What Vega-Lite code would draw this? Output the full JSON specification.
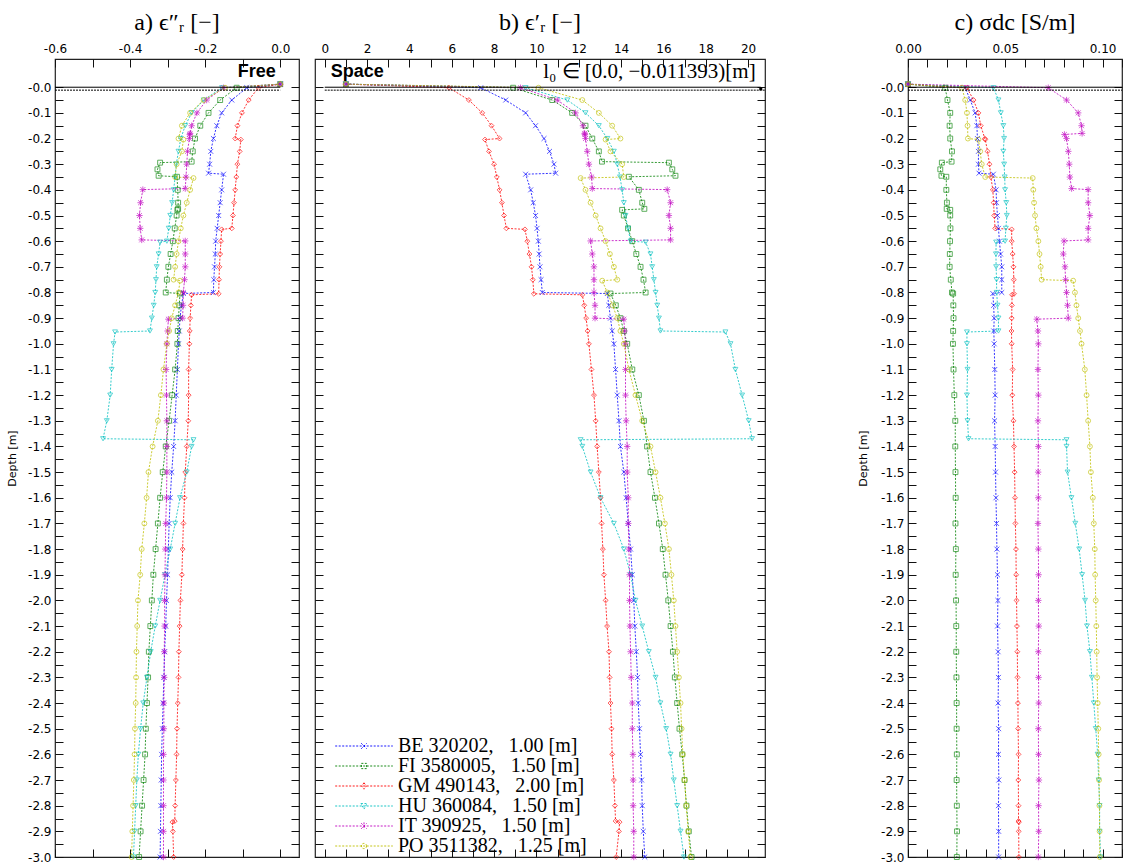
{
"$schema": "https://vega.github.io/schema/vega-lite/v6.json",
"padding": {"left": 5, "top": 10, "right": 0, "bottom": 0},
"config": {
  "font": "DejaVu Sans",
  "view": {"stroke": "#222", "strokeWidth": 1.2},
  "axis": {"grid": false, "domain": false, "tickColor": "#111", "tickWidth": 1, "tickSize": -8, "labelPadding": 12, "labelFont": "DejaVu Sans", "labelFontSize": 12, "labelColor": "#000", "labelFlush": false, "labelOverlap": false, "titleFont": "DejaVu Sans", "titleFontSize": 11, "titleFontWeight": "normal", "titleColor": "#000"},
  "title": {"font": "Liberation Serif", "fontSize": 24, "fontWeight": "normal", "color": "#000", "offset": 7}
},
"datasets": {"prof": [
{"s":"BE","d":0.012,"a":0,"b":1,"c":0},
{"s":"BE","d":-0.002,"a":-0.089,"b":7.37,"c":0.0294},
{"s":"BE","d":-0.05,"a":-0.129,"b":8.55,"c":0.032},
{"s":"BE","d":-0.1,"a":-0.156,"b":9.49,"c":0.0345},
{"s":"BE","d":-0.15,"a":-0.169,"b":9.96,"c":0.0354},
{"s":"BE","d":-0.2,"a":-0.178,"b":10.36,"c":0.0357},
{"s":"BE","d":-0.25,"a":-0.185,"b":10.62,"c":0.0362},
{"s":"BE","d":-0.3,"a":-0.188,"b":10.83,"c":0.0362},
{"s":"BE","d":-0.335,"a":-0.191,"b":10.91,"c":0.0365},
{"s":"BE","d":-0.339,"a":-0.151,"b":9.49,"c":0.0439},
{"s":"BE","d":-0.4,"a":-0.156,"b":9.73,"c":0.0453},
{"s":"BE","d":-0.45,"a":-0.16,"b":9.85,"c":0.0455},
{"s":"BE","d":-0.5,"a":-0.164,"b":9.96,"c":0.046},
{"s":"BE","d":-0.55,"a":-0.168,"b":10.03,"c":0.0465},
{"s":"BE","d":-0.6,"a":-0.172,"b":10.09,"c":0.047},
{"s":"BE","d":-0.65,"a":-0.173,"b":10.13,"c":0.0476},
{"s":"BE","d":-0.7,"a":-0.175,"b":10.17,"c":0.0482},
{"s":"BE","d":-0.75,"a":-0.177,"b":10.22,"c":0.0482},
{"s":"BE","d":-0.8,"a":-0.178,"b":10.28,"c":0.0482},
{"s":"BE","d":-0.804,"a":-0.258,"b":13.35,"c":0.0436},
{"s":"BE","d":-0.85,"a":-0.263,"b":13.42,"c":0.044},
{"s":"BE","d":-0.9,"a":-0.267,"b":13.5,"c":0.0443},
{"s":"BE","d":-0.95,"a":-0.269,"b":13.58,"c":0.0441},
{"s":"BE","d":-1.0,"a":-0.271,"b":13.66,"c":0.0443},
{"s":"BE","d":-1.1,"a":-0.274,"b":13.74,"c":0.0446},
{"s":"BE","d":-1.2,"a":-0.277,"b":13.82,"c":0.0448},
{"s":"BE","d":-1.3,"a":-0.28,"b":13.9,"c":0.0445},
{"s":"BE","d":-1.4,"a":-0.284,"b":13.97,"c":0.0448},
{"s":"BE","d":-1.5,"a":-0.289,"b":14.13,"c":0.045},
{"s":"BE","d":-1.6,"a":-0.293,"b":14.24,"c":0.0452},
{"s":"BE","d":-1.7,"a":-0.296,"b":14.34,"c":0.0455},
{"s":"BE","d":-1.8,"a":-0.298,"b":14.45,"c":0.0457},
{"s":"BE","d":-1.9,"a":-0.3,"b":14.53,"c":0.046},
{"s":"BE","d":-2.0,"a":-0.303,"b":14.6,"c":0.0462},
{"s":"BE","d":-2.1,"a":-0.305,"b":14.65,"c":0.046},
{"s":"BE","d":-2.2,"a":-0.308,"b":14.72,"c":0.0463},
{"s":"BE","d":-2.3,"a":-0.31,"b":14.78,"c":0.0465},
{"s":"BE","d":-2.4,"a":-0.312,"b":14.81,"c":0.0463},
{"s":"BE","d":-2.5,"a":-0.314,"b":14.87,"c":0.0466},
{"s":"BE","d":-2.6,"a":-0.316,"b":14.92,"c":0.0465},
{"s":"BE","d":-2.7,"a":-0.317,"b":14.97,"c":0.0467},
{"s":"BE","d":-2.8,"a":-0.318,"b":15.0,"c":0.0465},
{"s":"BE","d":-2.9,"a":-0.319,"b":15.05,"c":0.0466},
{"s":"BE","d":-3.0,"a":-0.32,"b":15.12,"c":0.0466},
{"s":"FI","d":0.012,"a":0,"b":1,"c":0},
{"s":"FI","d":-0.002,"a":-0.116,"b":8.9,"c":0.0191},
{"s":"FI","d":-0.05,"a":-0.16,"b":10.75,"c":0.0203},
{"s":"FI","d":-0.1,"a":-0.191,"b":11.69,"c":0.0217},
{"s":"FI","d":-0.15,"a":-0.213,"b":12.32,"c":0.0214},
{"s":"FI","d":-0.2,"a":-0.227,"b":12.64,"c":0.0217},
{"s":"FI","d":-0.25,"a":-0.233,"b":12.95,"c":0.0226},
{"s":"FI","d":-0.29,"a":-0.236,"b":13.1,"c":0.0224},
{"s":"FI","d":-0.294,"a":-0.32,"b":16.26,"c":0.0174},
{"s":"FI","d":-0.32,"a":-0.327,"b":16.42,"c":0.0166},
{"s":"FI","d":-0.345,"a":-0.324,"b":16.57,"c":0.0172},
{"s":"FI","d":-0.349,"a":-0.275,"b":14.37,"c":0.0197},
{"s":"FI","d":-0.4,"a":-0.273,"b":14.84,"c":0.0197},
{"s":"FI","d":-0.45,"a":-0.272,"b":15.0,"c":0.02},
{"s":"FI","d":-0.474,"a":-0.272,"b":15.1,"c":0.0199},
{"s":"FI","d":-0.478,"a":-0.274,"b":14.05,"c":0.0217},
{"s":"FI","d":-0.5,"a":-0.276,"b":14.13,"c":0.0217},
{"s":"FI","d":-0.55,"a":-0.281,"b":14.33,"c":0.0218},
{"s":"FI","d":-0.6,"a":-0.286,"b":14.53,"c":0.0216},
{"s":"FI","d":-0.65,"a":-0.292,"b":14.72,"c":0.0215},
{"s":"FI","d":-0.7,"a":-0.298,"b":14.92,"c":0.0214},
{"s":"FI","d":-0.75,"a":-0.302,"b":15.06,"c":0.022},
{"s":"FI","d":-0.8,"a":-0.305,"b":15.16,"c":0.0226},
{"s":"FI","d":-0.804,"a":-0.267,"b":13.5,"c":0.0232},
{"s":"FI","d":-0.85,"a":-0.269,"b":13.75,"c":0.0233},
{"s":"FI","d":-0.9,"a":-0.271,"b":13.97,"c":0.0234},
{"s":"FI","d":-0.95,"a":-0.273,"b":14.13,"c":0.0232},
{"s":"FI","d":-1.0,"a":-0.274,"b":14.29,"c":0.0231},
{"s":"FI","d":-1.1,"a":-0.28,"b":14.53,"c":0.0234},
{"s":"FI","d":-1.2,"a":-0.288,"b":14.84,"c":0.0238},
{"s":"FI","d":-1.3,"a":-0.296,"b":15.08,"c":0.0243},
{"s":"FI","d":-1.4,"a":-0.305,"b":15.23,"c":0.0243},
{"s":"FI","d":-1.5,"a":-0.313,"b":15.39,"c":0.0244},
{"s":"FI","d":-1.6,"a":-0.32,"b":15.6,"c":0.0245},
{"s":"FI","d":-1.7,"a":-0.326,"b":15.79,"c":0.0244},
{"s":"FI","d":-1.8,"a":-0.332,"b":15.97,"c":0.0246},
{"s":"FI","d":-1.9,"a":-0.338,"b":16.1,"c":0.0245},
{"s":"FI","d":-2.0,"a":-0.342,"b":16.23,"c":0.0247},
{"s":"FI","d":-2.1,"a":-0.346,"b":16.34,"c":0.0248},
{"s":"FI","d":-2.2,"a":-0.35,"b":16.45,"c":0.0248},
{"s":"FI","d":-2.3,"a":-0.352,"b":16.54,"c":0.0249},
{"s":"FI","d":-2.4,"a":-0.355,"b":16.65,"c":0.025},
{"s":"FI","d":-2.5,"a":-0.358,"b":16.76,"c":0.025},
{"s":"FI","d":-2.6,"a":-0.36,"b":16.89,"c":0.0251},
{"s":"FI","d":-2.7,"a":-0.364,"b":17.0,"c":0.025},
{"s":"FI","d":-2.8,"a":-0.368,"b":17.09,"c":0.0251},
{"s":"FI","d":-2.9,"a":-0.372,"b":17.2,"c":0.0252},
{"s":"FI","d":-3.0,"a":-0.376,"b":17.33,"c":0.0251},
{"s":"GM","d":0.012,"a":0,"b":1,"c":0},
{"s":"GM","d":-0.002,"a":-0.058,"b":5.87,"c":0.0303},
{"s":"GM","d":-0.05,"a":-0.084,"b":6.81,"c":0.0337},
{"s":"GM","d":-0.1,"a":-0.102,"b":7.44,"c":0.0362},
{"s":"GM","d":-0.15,"a":-0.114,"b":7.88,"c":0.0374},
{"s":"GM","d":-0.2,"a":-0.12,"b":8.26,"c":0.0395},
{"s":"GM","d":-0.204,"a":-0.105,"b":7.57,"c":0.0397},
{"s":"GM","d":-0.25,"a":-0.108,"b":7.76,"c":0.0409},
{"s":"GM","d":-0.3,"a":-0.114,"b":8.0,"c":0.0419},
{"s":"GM","d":-0.35,"a":-0.117,"b":8.13,"c":0.0426},
{"s":"GM","d":-0.4,"a":-0.12,"b":8.26,"c":0.0436},
{"s":"GM","d":-0.45,"a":-0.123,"b":8.37,"c":0.044},
{"s":"GM","d":-0.5,"a":-0.126,"b":8.47,"c":0.0443},
{"s":"GM","d":-0.55,"a":-0.129,"b":8.58,"c":0.0448},
{"s":"GM","d":-0.554,"a":-0.156,"b":9.46,"c":0.0533},
{"s":"GM","d":-0.6,"a":-0.158,"b":9.57,"c":0.0533},
{"s":"GM","d":-0.65,"a":-0.16,"b":9.67,"c":0.0538},
{"s":"GM","d":-0.7,"a":-0.162,"b":9.77,"c":0.0542},
{"s":"GM","d":-0.75,"a":-0.163,"b":9.83,"c":0.0544},
{"s":"GM","d":-0.805,"a":-0.164,"b":9.88,"c":0.0545},
{"s":"GM","d":-0.809,"a":-0.236,"b":12.17,"c":0.0535},
{"s":"GM","d":-0.85,"a":-0.238,"b":12.26,"c":0.0534},
{"s":"GM","d":-0.9,"a":-0.24,"b":12.35,"c":0.0533},
{"s":"GM","d":-0.95,"a":-0.241,"b":12.42,"c":0.0532},
{"s":"GM","d":-1.0,"a":-0.242,"b":12.48,"c":0.0533},
{"s":"GM","d":-1.1,"a":-0.244,"b":12.6,"c":0.0538},
{"s":"GM","d":-1.2,"a":-0.244,"b":12.72,"c":0.0536},
{"s":"GM","d":-1.3,"a":-0.245,"b":12.8,"c":0.0542},
{"s":"GM","d":-1.4,"a":-0.249,"b":12.87,"c":0.0545},
{"s":"GM","d":-1.5,"a":-0.253,"b":12.95,"c":0.0548},
{"s":"GM","d":-1.6,"a":-0.255,"b":13.03,"c":0.055},
{"s":"GM","d":-1.7,"a":-0.258,"b":13.08,"c":0.0552},
{"s":"GM","d":-1.8,"a":-0.26,"b":13.14,"c":0.0555},
{"s":"GM","d":-1.9,"a":-0.262,"b":13.19,"c":0.0556},
{"s":"GM","d":-2.0,"a":-0.266,"b":13.27,"c":0.0558},
{"s":"GM","d":-2.1,"a":-0.268,"b":13.34,"c":0.056},
{"s":"GM","d":-2.2,"a":-0.27,"b":13.43,"c":0.0562},
{"s":"GM","d":-2.3,"a":-0.271,"b":13.46,"c":0.0563},
{"s":"GM","d":-2.4,"a":-0.273,"b":13.5,"c":0.0565},
{"s":"GM","d":-2.5,"a":-0.275,"b":13.55,"c":0.0566},
{"s":"GM","d":-2.6,"a":-0.276,"b":13.58,"c":0.0568},
{"s":"GM","d":-2.7,"a":-0.278,"b":13.66,"c":0.0567},
{"s":"GM","d":-2.8,"a":-0.28,"b":13.71,"c":0.0568},
{"s":"GM","d":-2.86,"a":-0.281,"b":13.74,"c":0.0568},
{"s":"GM","d":-2.864,"a":-0.287,"b":13.93,"c":0.057},
{"s":"GM","d":-2.9,"a":-0.286,"b":13.9,"c":0.0569},
{"s":"GM","d":-3.0,"a":-0.284,"b":13.77,"c":0.057},
{"s":"HU","d":0.012,"a":0,"b":1,"c":0},
{"s":"HU","d":-0.002,"a":-0.155,"b":9.49,"c":0.0439},
{"s":"HU","d":-0.05,"a":-0.204,"b":11.46,"c":0.0465},
{"s":"HU","d":-0.1,"a":-0.236,"b":12.32,"c":0.0477},
{"s":"HU","d":-0.15,"a":-0.253,"b":12.95,"c":0.049},
{"s":"HU","d":-0.2,"a":-0.265,"b":13.35,"c":0.0494},
{"s":"HU","d":-0.25,"a":-0.271,"b":13.66,"c":0.049},
{"s":"HU","d":-0.3,"a":-0.277,"b":13.82,"c":0.0494},
{"s":"HU","d":-0.35,"a":-0.28,"b":13.95,"c":0.0497},
{"s":"HU","d":-0.4,"a":-0.284,"b":14.05,"c":0.0499},
{"s":"HU","d":-0.45,"a":-0.288,"b":14.13,"c":0.0505},
{"s":"HU","d":-0.5,"a":-0.293,"b":14.21,"c":0.0508},
{"s":"HU","d":-0.55,"a":-0.297,"b":14.33,"c":0.0503},
{"s":"HU","d":-0.6,"a":-0.302,"b":14.45,"c":0.0499},
{"s":"HU","d":-0.604,"a":-0.32,"b":15.16,"c":0.0453},
{"s":"HU","d":-0.65,"a":-0.324,"b":15.39,"c":0.0452},
{"s":"HU","d":-0.7,"a":-0.329,"b":15.47,"c":0.0453},
{"s":"HU","d":-0.75,"a":-0.331,"b":15.55,"c":0.0455},
{"s":"HU","d":-0.8,"a":-0.333,"b":15.63,"c":0.0456},
{"s":"HU","d":-0.85,"a":-0.337,"b":15.71,"c":0.046},
{"s":"HU","d":-0.9,"a":-0.342,"b":15.79,"c":0.0465},
{"s":"HU","d":-0.95,"a":-0.347,"b":15.86,"c":0.0465},
{"s":"HU","d":-0.954,"a":-0.44,"b":18.93,"c":0.0303},
{"s":"HU","d":-1.0,"a":-0.444,"b":19.17,"c":0.0303},
{"s":"HU","d":-1.1,"a":-0.449,"b":19.4,"c":0.0306},
{"s":"HU","d":-1.2,"a":-0.453,"b":19.72,"c":0.0303},
{"s":"HU","d":-1.3,"a":-0.462,"b":20.03,"c":0.0306},
{"s":"HU","d":-1.37,"a":-0.472,"b":20.19,"c":0.0311},
{"s":"HU","d":-1.374,"a":-0.231,"b":12.09,"c":0.0815},
{"s":"HU","d":-1.4,"a":-0.236,"b":12.17,"c":0.0815},
{"s":"HU","d":-1.5,"a":-0.249,"b":12.56,"c":0.082},
{"s":"HU","d":-1.6,"a":-0.267,"b":13.03,"c":0.084},
{"s":"HU","d":-1.7,"a":-0.28,"b":13.66,"c":0.086},
{"s":"HU","d":-1.8,"a":-0.293,"b":14.13,"c":0.088},
{"s":"HU","d":-1.9,"a":-0.307,"b":14.45,"c":0.0895},
{"s":"HU","d":-2.0,"a":-0.32,"b":14.68,"c":0.091},
{"s":"HU","d":-2.1,"a":-0.333,"b":15.0,"c":0.092},
{"s":"HU","d":-2.2,"a":-0.345,"b":15.31,"c":0.0935},
{"s":"HU","d":-2.3,"a":-0.355,"b":15.63,"c":0.0945},
{"s":"HU","d":-2.4,"a":-0.365,"b":15.86,"c":0.0955},
{"s":"HU","d":-2.5,"a":-0.372,"b":16.13,"c":0.0965},
{"s":"HU","d":-2.6,"a":-0.378,"b":16.34,"c":0.0975},
{"s":"HU","d":-2.7,"a":-0.382,"b":16.49,"c":0.098},
{"s":"HU","d":-2.8,"a":-0.385,"b":16.65,"c":0.0985},
{"s":"HU","d":-2.9,"a":-0.388,"b":16.81,"c":0.0985},
{"s":"HU","d":-3.0,"a":-0.391,"b":16.97,"c":0.099},
{"s":"IT","d":0.012,"a":0,"b":1,"c":0},
{"s":"IT","d":-0.002,"a":-0.151,"b":9.25,"c":0.0721},
{"s":"IT","d":-0.05,"a":-0.196,"b":10.99,"c":0.0815},
{"s":"IT","d":-0.1,"a":-0.222,"b":11.85,"c":0.0875},
{"s":"IT","d":-0.15,"a":-0.236,"b":12.2,"c":0.0892},
{"s":"IT","d":-0.18,"a":-0.24,"b":12.28,"c":0.0895},
{"s":"IT","d":-0.184,"a":-0.241,"b":12.29,"c":0.0804},
{"s":"IT","d":-0.2,"a":-0.242,"b":12.32,"c":0.0815},
{"s":"IT","d":-0.25,"a":-0.247,"b":12.4,"c":0.0824},
{"s":"IT","d":-0.3,"a":-0.249,"b":12.48,"c":0.0829},
{"s":"IT","d":-0.35,"a":-0.251,"b":12.61,"c":0.0832},
{"s":"IT","d":-0.395,"a":-0.253,"b":12.64,"c":0.0841},
{"s":"IT","d":-0.399,"a":-0.366,"b":16.18,"c":0.0926},
{"s":"IT","d":-0.45,"a":-0.372,"b":16.34,"c":0.0926},
{"s":"IT","d":-0.5,"a":-0.375,"b":16.26,"c":0.0935},
{"s":"IT","d":-0.55,"a":-0.373,"b":16.34,"c":0.0926},
{"s":"IT","d":-0.595,"a":-0.369,"b":16.34,"c":0.0926},
{"s":"IT","d":-0.599,"a":-0.253,"b":12.56,"c":0.0802},
{"s":"IT","d":-0.65,"a":-0.253,"b":12.64,"c":0.0798},
{"s":"IT","d":-0.7,"a":-0.253,"b":12.72,"c":0.0807},
{"s":"IT","d":-0.75,"a":-0.255,"b":12.72,"c":0.081},
{"s":"IT","d":-0.8,"a":-0.258,"b":12.72,"c":0.0815},
{"s":"IT","d":-0.85,"a":-0.259,"b":12.77,"c":0.082},
{"s":"IT","d":-0.9,"a":-0.26,"b":12.77,"c":0.0824},
{"s":"IT","d":-0.904,"a":-0.298,"b":14.13,"c":0.0662},
{"s":"IT","d":-0.95,"a":-0.3,"b":14.17,"c":0.0668},
{"s":"IT","d":-1.0,"a":-0.302,"b":14.21,"c":0.067},
{"s":"IT","d":-1.1,"a":-0.304,"b":14.21,"c":0.0668},
{"s":"IT","d":-1.2,"a":-0.303,"b":14.21,"c":0.067},
{"s":"IT","d":-1.3,"a":-0.302,"b":14.24,"c":0.0668},
{"s":"IT","d":-1.4,"a":-0.302,"b":14.29,"c":0.067},
{"s":"IT","d":-1.5,"a":-0.302,"b":14.29,"c":0.0669},
{"s":"IT","d":-1.6,"a":-0.303,"b":14.34,"c":0.067},
{"s":"IT","d":-1.7,"a":-0.305,"b":14.34,"c":0.0668},
{"s":"IT","d":-1.8,"a":-0.306,"b":14.37,"c":0.067},
{"s":"IT","d":-1.9,"a":-0.307,"b":14.4,"c":0.0671},
{"s":"IT","d":-2.0,"a":-0.308,"b":14.4,"c":0.067},
{"s":"IT","d":-2.1,"a":-0.308,"b":14.42,"c":0.0672},
{"s":"IT","d":-2.2,"a":-0.309,"b":14.45,"c":0.067},
{"s":"IT","d":-2.3,"a":-0.309,"b":14.48,"c":0.0671},
{"s":"IT","d":-2.4,"a":-0.31,"b":14.53,"c":0.0672},
{"s":"IT","d":-2.5,"a":-0.31,"b":14.53,"c":0.067},
{"s":"IT","d":-2.6,"a":-0.311,"b":14.56,"c":0.0671},
{"s":"IT","d":-2.7,"a":-0.311,"b":14.57,"c":0.0673},
{"s":"IT","d":-2.8,"a":-0.311,"b":14.57,"c":0.0671},
{"s":"IT","d":-2.9,"a":-0.311,"b":14.6,"c":0.0672},
{"s":"IT","d":-3.0,"a":-0.311,"b":14.6,"c":0.067},
{"s":"PO","d":0.012,"a":0,"b":1,"c":0},
{"s":"PO","d":-0.002,"a":-0.147,"b":10.1,"c":0.0277},
{"s":"PO","d":-0.05,"a":-0.204,"b":12.17,"c":0.0294},
{"s":"PO","d":-0.1,"a":-0.24,"b":12.95,"c":0.0303},
{"s":"PO","d":-0.15,"a":-0.262,"b":13.58,"c":0.0306},
{"s":"PO","d":-0.2,"a":-0.271,"b":13.97,"c":0.0308},
{"s":"PO","d":-0.204,"a":-0.258,"b":13.27,"c":0.0362},
{"s":"PO","d":-0.25,"a":-0.262,"b":13.5,"c":0.0371},
{"s":"PO","d":-0.3,"a":-0.276,"b":14.05,"c":0.0379},
{"s":"PO","d":-0.35,"a":-0.28,"b":14.13,"c":0.0397},
{"s":"PO","d":-0.354,"a":-0.231,"b":12.09,"c":0.0641},
{"s":"PO","d":-0.4,"a":-0.24,"b":12.32,"c":0.0644},
{"s":"PO","d":-0.45,"a":-0.249,"b":12.56,"c":0.0648},
{"s":"PO","d":-0.5,"a":-0.258,"b":12.8,"c":0.0653},
{"s":"PO","d":-0.55,"a":-0.265,"b":13.03,"c":0.066},
{"s":"PO","d":-0.6,"a":-0.271,"b":13.27,"c":0.067},
{"s":"PO","d":-0.65,"a":-0.276,"b":13.47,"c":0.0676},
{"s":"PO","d":-0.7,"a":-0.28,"b":13.66,"c":0.0682},
{"s":"PO","d":-0.75,"a":-0.284,"b":13.82,"c":0.0687},
{"s":"PO","d":-0.754,"a":-0.267,"b":13.11,"c":0.0849},
{"s":"PO","d":-0.8,"a":-0.271,"b":13.35,"c":0.0858},
{"s":"PO","d":-0.85,"a":-0.28,"b":13.6,"c":0.0866},
{"s":"PO","d":-0.9,"a":-0.289,"b":13.82,"c":0.0875},
{"s":"PO","d":-0.95,"a":-0.296,"b":13.97,"c":0.0884},
{"s":"PO","d":-1.0,"a":-0.302,"b":14.13,"c":0.0892},
{"s":"PO","d":-1.1,"a":-0.311,"b":14.37,"c":0.0909},
{"s":"PO","d":-1.2,"a":-0.318,"b":14.68,"c":0.0918},
{"s":"PO","d":-1.3,"a":-0.326,"b":15.0,"c":0.0926},
{"s":"PO","d":-1.4,"a":-0.34,"b":15.39,"c":0.0935},
{"s":"PO","d":-1.5,"a":-0.351,"b":15.63,"c":0.094},
{"s":"PO","d":-1.6,"a":-0.356,"b":15.86,"c":0.095},
{"s":"PO","d":-1.7,"a":-0.362,"b":16.07,"c":0.0955},
{"s":"PO","d":-1.8,"a":-0.369,"b":16.26,"c":0.096},
{"s":"PO","d":-1.9,"a":-0.373,"b":16.38,"c":0.0962},
{"s":"PO","d":-2.0,"a":-0.379,"b":16.49,"c":0.0965},
{"s":"PO","d":-2.1,"a":-0.381,"b":16.57,"c":0.0968},
{"s":"PO","d":-2.2,"a":-0.383,"b":16.65,"c":0.097},
{"s":"PO","d":-2.3,"a":-0.384,"b":16.73,"c":0.0972},
{"s":"PO","d":-2.4,"a":-0.385,"b":16.81,"c":0.0975},
{"s":"PO","d":-2.5,"a":-0.387,"b":16.86,"c":0.0978},
{"s":"PO","d":-2.6,"a":-0.388,"b":16.92,"c":0.098},
{"s":"PO","d":-2.7,"a":-0.39,"b":17.0,"c":0.0982},
{"s":"PO","d":-2.8,"a":-0.392,"b":17.08,"c":0.0984},
{"s":"PO","d":-2.9,"a":-0.394,"b":17.17,"c":0.0985},
{"s":"PO","d":-3.0,"a":-0.396,"b":17.28,"c":0.0986}
]},
"spacing": 89,
"resolve": {"scale": {"color": "independent", "shape": "independent"}, "legend": {"color": "independent", "shape": "independent"}},
"hconcat": [
{
"spacing": 12,
"resolve": {"scale": {"color": "independent", "shape": "independent"}, "legend": {"color": "independent", "shape": "independent"}},
"hconcat": [
{
  "width": 244, "height": 798,
  "title": "a) ϵ″ᵣ [−]",
  "layer": [
    {"data": {"name": "prof"}, "mark": {"type": "line", "strokeWidth": 0.8, "strokeDash": [2, 1.5]},
     "encoding": {
       "x": {"field": "a", "type": "quantitative", "scale": {"domain": [-0.6, 0.05], "nice": false, "zero": false},
             "axis": {"orient": "top", "title": null, "values": [-0.6,-0.5,-0.4,-0.3,-0.2,-0.1,0], "labelExpr": "abs(round(datum.value*10))%2==0 ? (datum.value < -0.001 ? '-' : '') + format(abs(datum.value), '.1f') : ''"}},
       "y": {"field": "d", "type": "quantitative", "scale": {"domain": [-3.0, 0.11], "nice": false, "zero": false},
             "axis": {"orient": "left", "title": "Depth [m]", "titlePadding": 10, "values": [0,-0.05,-0.1,-0.15,-0.2,-0.25,-0.3,-0.35,-0.4,-0.45,-0.5,-0.55,-0.6,-0.65,-0.7,-0.75,-0.8,-0.85,-0.9,-0.95,-1,-1.05,-1.1,-1.15,-1.2,-1.25,-1.3,-1.35,-1.4,-1.45,-1.5,-1.55,-1.6,-1.65,-1.7,-1.75,-1.8,-1.85,-1.9,-1.95,-2,-2.05,-2.1,-2.15,-2.2,-2.25,-2.3,-2.35,-2.4,-2.45,-2.5,-2.55,-2.6,-2.65,-2.7,-2.75,-2.8,-2.85,-2.9,-2.95,-3], "labelExpr": "abs(round(datum.value*20))%2==0 ? (datum.value == 0 ? '-0.0' : '-' + format(abs(datum.value), '.1f')) : ''"}},
       "color": {"field": "s", "type": "nominal", "scale": {"domain": ["BE","FI","GM","HU","IT","PO"], "range": ["#0000ff","#008000","#ff0000","#00bfbf","#bf00bf","#bfbf00"]}, "legend": null},
       "order": {"field": "d", "sort": "descending"}
     }},
    {"data": {"name": "prof"}, "mark": {"type": "point", "filled": false, "size": 24, "strokeWidth": 0.9},
     "encoding": {
       "x": {"field": "a", "type": "quantitative", "axis": {"orient": "bottom", "title": null, "labels": false, "values": [-0.6,-0.5,-0.4,-0.3,-0.2,-0.1,0]}},
       "y": {"field": "d", "type": "quantitative", "axis": {"orient": "right", "title": null, "labels": false, "values": [0,-0.05,-0.1,-0.15,-0.2,-0.25,-0.3,-0.35,-0.4,-0.45,-0.5,-0.55,-0.6,-0.65,-0.7,-0.75,-0.8,-0.85,-0.9,-0.95,-1,-1.05,-1.1,-1.15,-1.2,-1.25,-1.3,-1.35,-1.4,-1.45,-1.5,-1.55,-1.6,-1.65,-1.7,-1.75,-1.8,-1.85,-1.9,-1.95,-2,-2.05,-2.1,-2.15,-2.2,-2.25,-2.3,-2.35,-2.4,-2.45,-2.5,-2.55,-2.6,-2.65,-2.7,-2.75,-2.8,-2.85,-2.9,-2.95,-3]}},
       "color": {"field": "s", "type": "nominal", "legend": null},
       "shape": {"field": "s", "type": "nominal", "scale": {"domain": ["BE","FI","GM","HU","IT","PO"], "range": ["M-1,-1L1,1M-1,1L1,-1","square","diamond","triangle-down","M-1,-1L1,1M-1,1L1,-1M0,-1.3L0,1.3M-1.3,0L1.3,0","circle"]}, "legend": null}
     }},
    {"data": {"values": [{"x": -0.6, "x2": 0, "d": 0}]}, "mark": {"type": "rule", "color": "#000", "strokeWidth": 1},
     "encoding": {"x": {"field": "x", "type": "quantitative", "axis": null}, "x2": {"field": "x2"}, "y": {"field": "d", "type": "quantitative", "axis": null}}},
    {"data": {"values": [{"x": -0.6, "x2": 0, "d": -0.011393}]}, "mark": {"type": "rule", "color": "#000", "strokeWidth": 1, "strokeDash": [2, 1]},
     "encoding": {"x": {"field": "x", "type": "quantitative", "axis": null}, "x2": {"field": "x2"}, "y": {"field": "d", "type": "quantitative", "axis": null}}},
    {"data": {"values": [{"x": -0.012, "d": 0.058, "t": "Free"}]}, "mark": {"type": "text", "font": "Liberation Sans", "fontSize": 18, "fontWeight": "bold", "align": "right", "baseline": "middle", "color": "#000"},
     "encoding": {"x": {"field": "x", "type": "quantitative", "axis": null}, "y": {"field": "d", "type": "quantitative", "axis": null}, "text": {"field": "t"}}}
  ]
},
{
  "width": 450, "height": 798,
  "title": "b) ϵ′ᵣ [−]",
  "resolve": {"scale": {"color": "independent", "shape": "independent"}},
  "layer": [
    {"data": {"name": "prof"}, "mark": {"type": "line", "strokeWidth": 0.8, "strokeDash": [2, 1.5]},
     "encoding": {
       "x": {"field": "b", "type": "quantitative", "scale": {"domain": [-0.46, 20.8], "nice": false, "zero": false},
             "axis": {"orient": "top", "title": null, "values": [0,1,2,3,4,5,6,7,8,9,10,11,12,13,14,15,16,17,18,19,20], "labelExpr": "datum.value % 2 == 0 ? format(datum.value, 'd') : ''"}},
       "y": {"field": "d", "type": "quantitative", "scale": {"domain": [-3.0, 0.11], "nice": false, "zero": false},
             "axis": {"orient": "left", "title": null, "labels": false, "values": [0,-0.05,-0.1,-0.15,-0.2,-0.25,-0.3,-0.35,-0.4,-0.45,-0.5,-0.55,-0.6,-0.65,-0.7,-0.75,-0.8,-0.85,-0.9,-0.95,-1,-1.05,-1.1,-1.15,-1.2,-1.25,-1.3,-1.35,-1.4,-1.45,-1.5,-1.55,-1.6,-1.65,-1.7,-1.75,-1.8,-1.85,-1.9,-1.95,-2,-2.05,-2.1,-2.15,-2.2,-2.25,-2.3,-2.35,-2.4,-2.45,-2.5,-2.55,-2.6,-2.65,-2.7,-2.75,-2.8,-2.85,-2.9,-2.95,-3]}},
       "color": {"field": "s", "type": "nominal", "scale": {"domain": ["BE","FI","GM","HU","IT","PO"], "range": ["#0000ff","#008000","#ff0000","#00bfbf","#bf00bf","#bfbf00"]}, "legend": null},
       "order": {"field": "d", "sort": "descending"}
     }},
    {"data": {"name": "prof"}, "mark": {"type": "point", "filled": false, "size": 24, "strokeWidth": 0.9},
     "encoding": {
       "x": {"field": "b", "type": "quantitative", "axis": {"orient": "bottom", "title": null, "labels": false, "values": [0,1,2,3,4,5,6,7,8,9,10,11,12,13,14,15,16,17,18,19,20]}},
       "y": {"field": "d", "type": "quantitative", "axis": {"orient": "right", "title": null, "labels": false, "values": [0,-0.05,-0.1,-0.15,-0.2,-0.25,-0.3,-0.35,-0.4,-0.45,-0.5,-0.55,-0.6,-0.65,-0.7,-0.75,-0.8,-0.85,-0.9,-0.95,-1,-1.05,-1.1,-1.15,-1.2,-1.25,-1.3,-1.35,-1.4,-1.45,-1.5,-1.55,-1.6,-1.65,-1.7,-1.75,-1.8,-1.85,-1.9,-1.95,-2,-2.05,-2.1,-2.15,-2.2,-2.25,-2.3,-2.35,-2.4,-2.45,-2.5,-2.55,-2.6,-2.65,-2.7,-2.75,-2.8,-2.85,-2.9,-2.95,-3]}},
       "color": {"field": "s", "type": "nominal", "scale": {"domain": ["BE","FI","GM","HU","IT","PO"], "range": ["#0000ff","#008000","#ff0000","#00bfbf","#bf00bf","#bfbf00"]}, "legend": null},
       "shape": {"field": "s", "type": "nominal", "scale": {"domain": ["BE","FI","GM","HU","IT","PO"], "range": ["M-1,-1L1,1M-1,1L1,-1","square","diamond","triangle-down","M-1,-1L1,1M-1,1L1,-1M0,-1.3L0,1.3M-1.3,0L1.3,0","circle"]}, "legend": null}
     }},
    {"data": {"name": "prof"}, "transform": [{"filter": "datum.d > 0"}], "mark": {"type": "point", "filled": false, "size": 20, "strokeWidth": 0.8, "opacity": 0},
     "encoding": {
       "x": {"field": "b", "type": "quantitative", "axis": null},
       "y": {"field": "d", "type": "quantitative", "axis": null},
       "color": {"field": "s", "type": "nominal", "scale": {"domain": ["BE","FI","GM","HU","IT","PO"], "range": ["#0000ff","#008000","#ff0000","#00bfbf","#bf00bf","#bfbf00"]},
         "legend": {"title": null, "orient": "none", "legendX": 39, "legendY": 677, "padding": 0, "rowPadding": -4, "labelFont": "Liberation Serif", "labelFontSize": 20, "labelColor": "#000", "labelLimit": 400, "labelOffset": 24, "symbolSize": 256, "symbolStrokeWidth": 0.9, "symbolDash": [2, 1.5],
           "labelExpr": "datum.label=='BE' ? 'BE 320202,\u00a0\u00a0 1.00 [m]' : datum.label=='FI' ? 'FI 3580005,\u00a0\u00a0 1.50 [m]' : datum.label=='GM' ? 'GM 490143,\u00a0\u00a0 2.00 [m]' : datum.label=='HU' ? 'HU 360084,\u00a0\u00a0 1.50 [m]' : datum.label=='IT' ? 'IT 390925,\u00a0\u00a0 1.50 [m]' : 'PO 3511382,\u00a0\u00a0 1.25 [m]'",
           "encode": {"symbols": {"update": {"opacity": {"value": 1}}}}}},
       "shape": {"field": "s", "type": "nominal", "scale": {"domain": ["BE","FI","GM","HU","IT","PO"], "range": [
           "M-3.6,0H3.6M-0.35,-0.35L0.35,0.35M-0.35,0.35L0.35,-0.35",
           "M-3.6,0H3.6M-0.33,-0.33H0.33V0.33H-0.33Z",
           "M-3.6,0H3.6M0,-0.4L0.3,0L0,0.4L-0.3,0Z",
           "M-3.6,0H3.6M-0.38,-0.3H0.38L0,0.38Z",
           "M-3.6,0H3.6M-0.35,-0.35L0.35,0.35M-0.35,0.35L0.35,-0.35M0,-0.45V0.45",
           "M-3.6,0H3.6M0.33,0A0.33,0.33 0 1 1 -0.33,0A0.33,0.33 0 1 1 0.33,0"]},
         "legend": {"title": null, "orient": "none", "legendX": 39, "legendY": 677, "padding": 0, "rowPadding": -4, "labelFont": "Liberation Serif", "labelFontSize": 20, "labelColor": "#000", "labelLimit": 400, "labelOffset": 24, "symbolSize": 256, "symbolStrokeWidth": 0.9, "symbolDash": [2, 1.5],
           "labelExpr": "datum.label=='BE' ? 'BE 320202,\u00a0\u00a0 1.00 [m]' : datum.label=='FI' ? 'FI 3580005,\u00a0\u00a0 1.50 [m]' : datum.label=='GM' ? 'GM 490143,\u00a0\u00a0 2.00 [m]' : datum.label=='HU' ? 'HU 360084,\u00a0\u00a0 1.50 [m]' : datum.label=='IT' ? 'IT 390925,\u00a0\u00a0 1.50 [m]' : 'PO 3511382,\u00a0\u00a0 1.25 [m]'",
           "encode": {"symbols": {"update": {"opacity": {"value": 1}}}}}}
     }},
    {"data": {"values": [{"x": 0, "x2": 20.6, "d": 0}]}, "mark": {"type": "rule", "color": "#000", "strokeWidth": 1},
     "encoding": {"x": {"field": "x", "type": "quantitative", "axis": null}, "x2": {"field": "x2"}, "y": {"field": "d", "type": "quantitative", "axis": null}}},
    {"data": {"values": [{"x": 0, "x2": 20.8, "d": -0.011393}]}, "mark": {"type": "rule", "color": "#000", "strokeWidth": 1, "strokeDash": [2, 1]},
     "encoding": {"x": {"field": "x", "type": "quantitative", "axis": null}, "x2": {"field": "x2"}, "y": {"field": "d", "type": "quantitative", "axis": null}}},
    {"data": {"values": [{"x": 20.6, "d": -0.006}]}, "mark": {"type": "square", "color": "#000", "size": 9, "opacity": 1},
     "encoding": {"x": {"field": "x", "type": "quantitative", "axis": null}, "y": {"field": "d", "type": "quantitative", "axis": null}}},
    {"data": {"values": [{"x": 0.28, "d": 0.058, "t": "Space"}]}, "mark": {"type": "text", "font": "Liberation Sans", "fontSize": 18, "fontWeight": "bold", "align": "left", "baseline": "middle", "color": "#000"},
     "encoding": {"x": {"field": "x", "type": "quantitative", "axis": null}, "y": {"field": "d", "type": "quantitative", "axis": null}, "text": {"field": "t"}}},
    {"data": {"values": [{"x": 20.36, "d": 0.058, "t": "l₀ ∈ [0.0, −0.011393)[m]"}]}, "mark": {"type": "text", "font": "Liberation Serif", "fontSize": 21, "align": "right", "baseline": "middle", "color": "#000"},
     "encoding": {"x": {"field": "x", "type": "quantitative", "axis": null}, "y": {"field": "d", "type": "quantitative", "axis": null}, "text": {"field": "t"}}}
  ]
}
]
},
{
  "width": 214, "height": 798,
  "title": "c) σdc [S/m]",
  "layer": [
    {"data": {"name": "prof"}, "mark": {"type": "line", "strokeWidth": 0.8, "strokeDash": [2, 1.5]},
     "encoding": {
       "x": {"field": "c", "type": "quantitative", "scale": {"domain": [0, 0.11], "nice": false, "zero": false},
             "axis": {"orient": "top", "title": null, "values": [0,0.01,0.02,0.03,0.04,0.05,0.06,0.07,0.08,0.09,0.1,0.11], "labelExpr": "abs(round(datum.value*100))%5==0 ? format(datum.value, '.2f') : ''"}},
       "y": {"field": "d", "type": "quantitative", "scale": {"domain": [-3.0, 0.11], "nice": false, "zero": false},
             "axis": {"orient": "left", "title": "Depth [m]", "titlePadding": 12, "values": [0,-0.05,-0.1,-0.15,-0.2,-0.25,-0.3,-0.35,-0.4,-0.45,-0.5,-0.55,-0.6,-0.65,-0.7,-0.75,-0.8,-0.85,-0.9,-0.95,-1,-1.05,-1.1,-1.15,-1.2,-1.25,-1.3,-1.35,-1.4,-1.45,-1.5,-1.55,-1.6,-1.65,-1.7,-1.75,-1.8,-1.85,-1.9,-1.95,-2,-2.05,-2.1,-2.15,-2.2,-2.25,-2.3,-2.35,-2.4,-2.45,-2.5,-2.55,-2.6,-2.65,-2.7,-2.75,-2.8,-2.85,-2.9,-2.95,-3], "labelExpr": "abs(round(datum.value*20))%2==0 ? (datum.value == 0 ? '-0.0' : '-' + format(abs(datum.value), '.1f')) : ''"}},
       "color": {"field": "s", "type": "nominal", "scale": {"domain": ["BE","FI","GM","HU","IT","PO"], "range": ["#0000ff","#008000","#ff0000","#00bfbf","#bf00bf","#bfbf00"]}, "legend": null},
       "order": {"field": "d", "sort": "descending"}
     }},
    {"data": {"name": "prof"}, "mark": {"type": "point", "filled": false, "size": 24, "strokeWidth": 0.9},
     "encoding": {
       "x": {"field": "c", "type": "quantitative", "axis": {"orient": "bottom", "title": null, "labels": false, "values": [0,0.01,0.02,0.03,0.04,0.05,0.06,0.07,0.08,0.09,0.1,0.11]}},
       "y": {"field": "d", "type": "quantitative", "axis": {"orient": "right", "title": null, "labels": false, "values": [0,-0.05,-0.1,-0.15,-0.2,-0.25,-0.3,-0.35,-0.4,-0.45,-0.5,-0.55,-0.6,-0.65,-0.7,-0.75,-0.8,-0.85,-0.9,-0.95,-1,-1.05,-1.1,-1.15,-1.2,-1.25,-1.3,-1.35,-1.4,-1.45,-1.5,-1.55,-1.6,-1.65,-1.7,-1.75,-1.8,-1.85,-1.9,-1.95,-2,-2.05,-2.1,-2.15,-2.2,-2.25,-2.3,-2.35,-2.4,-2.45,-2.5,-2.55,-2.6,-2.65,-2.7,-2.75,-2.8,-2.85,-2.9,-2.95,-3]}},
       "color": {"field": "s", "type": "nominal", "legend": null},
       "shape": {"field": "s", "type": "nominal", "scale": {"domain": ["BE","FI","GM","HU","IT","PO"], "range": ["M-1,-1L1,1M-1,1L1,-1","square","diamond","triangle-down","M-1,-1L1,1M-1,1L1,-1M0,-1.3L0,1.3M-1.3,0L1.3,0","circle"]}, "legend": null}
     }},
    {"data": {"values": [{"x": 0, "x2": 0.11, "d": 0}]}, "mark": {"type": "rule", "color": "#000", "strokeWidth": 1},
     "encoding": {"x": {"field": "x", "type": "quantitative", "axis": null}, "x2": {"field": "x2"}, "y": {"field": "d", "type": "quantitative", "axis": null}}},
    {"data": {"values": [{"x": 0, "x2": 0.11, "d": -0.011393}]}, "mark": {"type": "rule", "color": "#000", "strokeWidth": 1, "strokeDash": [2, 1]},
     "encoding": {"x": {"field": "x", "type": "quantitative", "axis": null}, "x2": {"field": "x2"}, "y": {"field": "d", "type": "quantitative", "axis": null}}}
  ]
}
]
}
